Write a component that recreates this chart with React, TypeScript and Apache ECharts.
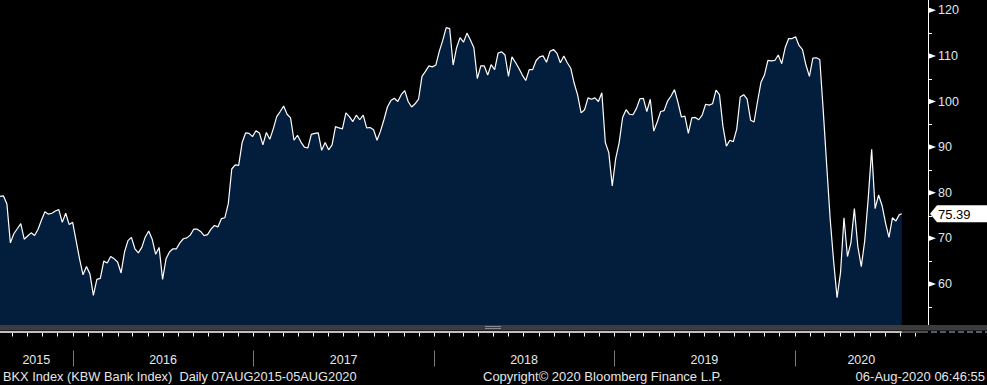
import React, { useEffect, useRef } from "react";
import * as echarts from "echarts";

const DAY = 86400000;
const START = Date.UTC(2015, 7, 7);
const END = Date.UTC(2020, 7, 5);
const X_MAX = Date.UTC(2020, 8, 27);
const Y_MIN = 50;
const Y_MAX = 122.26;

// BKX weekly closes (07 Aug 2015 - 05 Aug 2020)
const weeklyValues = [
  79.2, 79.3, 77.5, 69, 71, 72.1, 73.2, 69.8, 70.5, 71.2,
  70.6, 72, 74, 75.8, 75.3, 75.5, 76, 76.3, 73.5, 75.5,
  73, 73.5, 69.5, 65.5, 62, 63.8, 62.2, 57.5, 61, 61.2,
  65, 64.6, 66, 65.5, 64.8, 62.4, 67, 69.5, 70.2, 67.7,
  66.8, 68, 70.3, 71.6, 69.8, 66.5, 68, 61, 65.5, 67,
  67.7, 67.7, 69, 69.9, 70.1, 70.7, 72, 72, 71.5, 70.6,
  70.8, 72, 72.8, 72.5, 74.3, 74.5, 77.6, 85.2, 86.1, 86,
  91, 93.1, 93, 92.3, 93.6, 93.1, 90.5, 93.2, 91.7, 94,
  96.7, 97.8, 99, 97.2, 96.4, 91.5, 92.6, 91.1, 90, 89.8,
  92.8, 93, 93.1, 89.3, 91, 89.4, 90.5, 94.5, 94.2, 94,
  97.5, 96.7, 95.6, 97, 96, 97, 94.2, 94.3, 93.8, 91.5,
  93.5, 96, 98.8, 100.2, 100.7, 100, 101.5, 102.4, 100, 98.8,
  99.5, 100.5, 105.5, 106.6, 107.8, 107.6, 108, 111, 113.4, 116.2,
  116, 108, 111.8, 114, 113, 115, 113.5, 111.8, 105, 107.8,
  107.8, 105.8, 108.1, 107, 110.6, 110.9, 110.2, 105.5, 109.8, 108.6,
  107.3, 105.8, 104.6, 107, 107, 109, 109.8, 110, 108.6, 111,
  111.4, 110.6, 108.5, 110, 108.5, 107.3, 104, 101.4, 97.5, 98.2,
  100.8, 100.5, 100.8, 100, 101.9, 91, 88.8, 81.5, 87.5, 91,
  96.5, 98.2, 97.2, 97.1, 98.5, 100.6, 100.7, 97.8, 100.5, 93.5,
  95.5, 97.8, 98, 100.1, 101.2, 102.6, 99.8, 96.6, 96.8, 93,
  96.4, 96.5, 96, 97, 99.4, 99.2, 99.5, 102.5, 101.5, 94.6,
  90.2, 91.5, 91.2, 94, 101, 101.5, 100.5, 95.9, 95.5, 100,
  104.2, 105.8, 109, 108.9, 109, 110.2, 108.3, 111.8, 113.8, 113.8,
  114.2, 112.3, 111.4, 108, 105.5, 109.5, 109.6, 109.2, 98, 86,
  74.3, 65, 57, 62.5, 74.5, 66, 69, 76.5, 68.2, 63.8,
  69.5, 78.7, 89.5, 76.5, 79.5, 77.2, 73.4, 70.2, 74.5, 73.8, 75.2, 75.39,
];

const yTicks = [60, 70, 80, 90, 100, 110, 120];
const yMinorTicks = [55, 65, 75, 85, 95, 105, 115];
const years = [2015, 2016, 2017, 2018, 2019, 2020];
const lastValue = 75.39;
const footerLeft = "BKX Index (KBW Bank Index)  Daily 07AUG2015-05AUG2020";
const footerMid = "Copyright\u00A9 2020 Bloomberg Finance L.P.";
const footerRight = "06-Aug-2020 06:46:55";

const FONT = '"Liberation Sans", Arial, sans-serif';

const seriesData = weeklyValues.map((v, i) => [Math.min(START + i * 7 * DAY, END), v]);

const monthStarts: number[] = [];
for (let y = 2015; y <= 2020; y++) {
  for (let m = 0; m < 12; m++) {
    const t = Date.UTC(y, m, 1);
    if (t > START && t < X_MAX) monthStarts.push(t);
  }
}
const yearStarts = years.map((y) => Date.UTC(y, 0, 1)).filter((t) => t > START);
const yearMids = years.map((y) => {
  const a = Math.max(Date.UTC(y, 0, 1), START);
  const b = Math.min(Date.UTC(y + 1, 0, 1), X_MAX);
  return (a + b) / 2;
});

export default function App() {
  const ref = useRef<HTMLDivElement>(null);
  useEffect(() => {
    if (!ref.current) return;
    const chart = echarts.init(ref.current, undefined, { renderer: "svg" });
    const option: any = {
      animation: false,
      backgroundColor: "#000",
      grid: { left: 0, right: 59, top: 0, bottom: 55.5, containLabel: false },
      xAxis: {
        type: "time",
        min: START,
        max: X_MAX,
        axisLine: { show: false },
        axisTick: { show: false },
        axisLabel: { show: false },
        splitLine: { show: false },
      },
      yAxis: {
        type: "value",
        position: "right",
        min: Y_MIN,
        max: Y_MAX,
        interval: 10,
        axisLine: { show: true, lineStyle: { color: "#fff", width: 1 } },
        axisTick: { show: false },
        minorTick: { show: false },
        splitLine: { show: false },
        minorSplitLine: { show: false },
        axisLabel: {
          margin: 10,
          color: "#dde7f3",
          fontSize: 12.5,
          fontFamily: FONT,
          formatter: (v: number) => (yTicks.indexOf(v) >= 0 ? String(v) : ""),
        },
      },
      series: [
        {
          type: "line",
          data: seriesData,
          showSymbol: false,
          symbol: "none",
          lineStyle: { color: "#ffffff", width: 1.2 },
          areaStyle: { color: "#031d3c", opacity: 1 },
          z: 2,
        },
        {
          type: "custom",
          clip: false,
          silent: true,
          z: 5,
          data: yTicks.map((v) => [X_MAX, v]),
          renderItem: (params: any, api: any) => {
            const p = api.coord([api.value(0), api.value(1)]);
            return {
              type: "polygon",
              shape: { points: [[p[0], p[1] - 3], [p[0] + 8, p[1]], [p[0], p[1] + 3]] },
              style: { fill: "#ffffff" },
            };
          },
        },
        {
          type: "custom",
          clip: false,
          silent: true,
          z: 5,
          data: yMinorTicks.map((v) => [X_MAX, v]),
          renderItem: (params: any, api: any) => {
            const p = api.coord([api.value(0), api.value(1)]);
            const y = Math.round(p[1]) + 0.5;
            return {
              type: "line",
              shape: { x1: p[0], y1: y, x2: p[0] + 4, y2: y },
              style: { stroke: "#ffffff", lineWidth: 1 },
            };
          },
        },
        {
          type: "custom",
          clip: false,
          silent: true,
          z: 6,
          data: [[END, lastValue]],
          renderItem: (params: any, api: any) => {
            const p = api.coord([api.value(0), api.value(1)]);
            const cs = params.coordSys;
            const x0 = cs.x + cs.width + 2;
            const w = api.getWidth();
            const y = p[1];
            return {
              type: "group",
              children: [
                {
                  type: "polygon",
                  shape: { points: [[x0, y], [x0 + 7, y - 8.5], [w, y - 8.5], [w, y + 8.5], [x0 + 7, y + 8.5]] },
                  style: { fill: "#ffffff" },
                },
                {
                  type: "text",
                  style: {
                    text: lastValue.toFixed(2),
                    x: x0 + 8,
                    y: y + 0.5,
                    fill: "#000000",
                    font: `13px ${FONT}`,
                    verticalAlign: "middle",
                    align: "left",
                  },
                },
              ],
            };
          },
        },
        {
          type: "custom",
          clip: false,
          silent: true,
          z: 5,
          data: [[START, Y_MIN]],
          renderItem: (params: any, api: any) => {
            const cs = params.coordSys;
            const by = cs.y + cs.height + 2.5;
            const xa = api.coord([START, Y_MIN])[0];
            const xb = api.coord([END, Y_MIN])[0];
            return {
              type: "group",
              children: [
                { type: "line", shape: { x1: xa, y1: by, x2: xb, y2: by }, style: { stroke: "#ffffff", lineWidth: 1.6 } },
                { type: "line", shape: { x1: xb, y1: by, x2: cs.x + cs.width, y2: by }, style: { stroke: "#9a9a9a", lineWidth: 1 } },
              ],
            };
          },
        },
        {
          type: "custom",
          clip: false,
          silent: true,
          z: 5,
          data: monthStarts.map((t) => [t, Y_MIN]),
          renderItem: (params: any, api: any) => {
            const cs = params.coordSys;
            const by = cs.y + cs.height;
            const x = Math.round(api.coord([api.value(0), Y_MIN])[0]) + 0.5;
            return {
              type: "line",
              shape: { x1: x, y1: by + 3.5, x2: x, y2: by + 7 },
              style: { stroke: "#ffffff", lineWidth: 1 },
            };
          },
        },
        {
          type: "custom",
          clip: false,
          silent: true,
          z: 5,
          data: yearStarts.map((t) => [t, Y_MIN]),
          renderItem: (params: any, api: any) => {
            const cs = params.coordSys;
            const by = cs.y + cs.height;
            const x = Math.round(api.coord([api.value(0), Y_MIN])[0]) + 0.5;
            return {
              type: "line",
              shape: { x1: x, y1: by + 21, x2: x, y2: by + 37 },
              style: { stroke: "#7a7a7a", lineWidth: 1 },
            };
          },
        },
        {
          type: "custom",
          clip: false,
          silent: true,
          z: 5,
          data: yearMids.map((t) => [t, Y_MIN]),
          renderItem: (params: any, api: any) => {
            const cs = params.coordSys;
            const by = cs.y + cs.height;
            const x = api.coord([api.value(0), Y_MIN])[0];
            return {
              type: "text",
              style: {
                text: String(years[params.dataIndex]),
                x,
                y: by + 30,
                fill: "#e8e8e8",
                font: `12.5px ${FONT}`,
                align: "center",
                verticalAlign: "middle",
              },
            };
          },
        },
      ],
      graphic: [
        { type: "rect", z: 100, shape: { x: 0, y: 325, width: 987, height: 5.5 }, style: { fill: "#3c3c3c" } },
        { type: "line", z: 101, shape: { x1: 485, y1: 326.5, x2: 501, y2: 326.5 }, style: { stroke: "#8a8a8a", lineWidth: 1 } },
        { type: "line", z: 101, shape: { x1: 485, y1: 328.5, x2: 501, y2: 328.5 }, style: { stroke: "#8a8a8a", lineWidth: 1 } },
        { type: "line", z: 101, shape: { x1: 931, y1: 332, x2: 987, y2: 332 }, style: { stroke: "#4e5d72", lineWidth: 2, lineDash: [6, 3] } },
        {
          type: "text",
          z: 100,
          style: { text: footerLeft, x: 3, y: 376.5, fill: "#e6e6e6", font: `12.8px ${FONT}`, verticalAlign: "middle" },
        },
        {
          type: "text",
          z: 100,
          style: { text: footerMid, x: 483, y: 376.5, fill: "#e6e6e6", font: `13px ${FONT}`, verticalAlign: "middle" },
        },
        {
          type: "text",
          z: 100,
          style: { text: footerRight, x: 985, y: 376.5, fill: "#e6e6e6", font: `13px ${FONT}`, verticalAlign: "middle", align: "right" },
        },
      ],
    };
    chart.setOption(option);
    return () => chart.dispose();
  }, []);
  return (
    <div
      ref={ref}
      style={{ position: "fixed", left: 0, top: 0, width: 987, height: 385, background: "#000" }}
    />
  );
}
